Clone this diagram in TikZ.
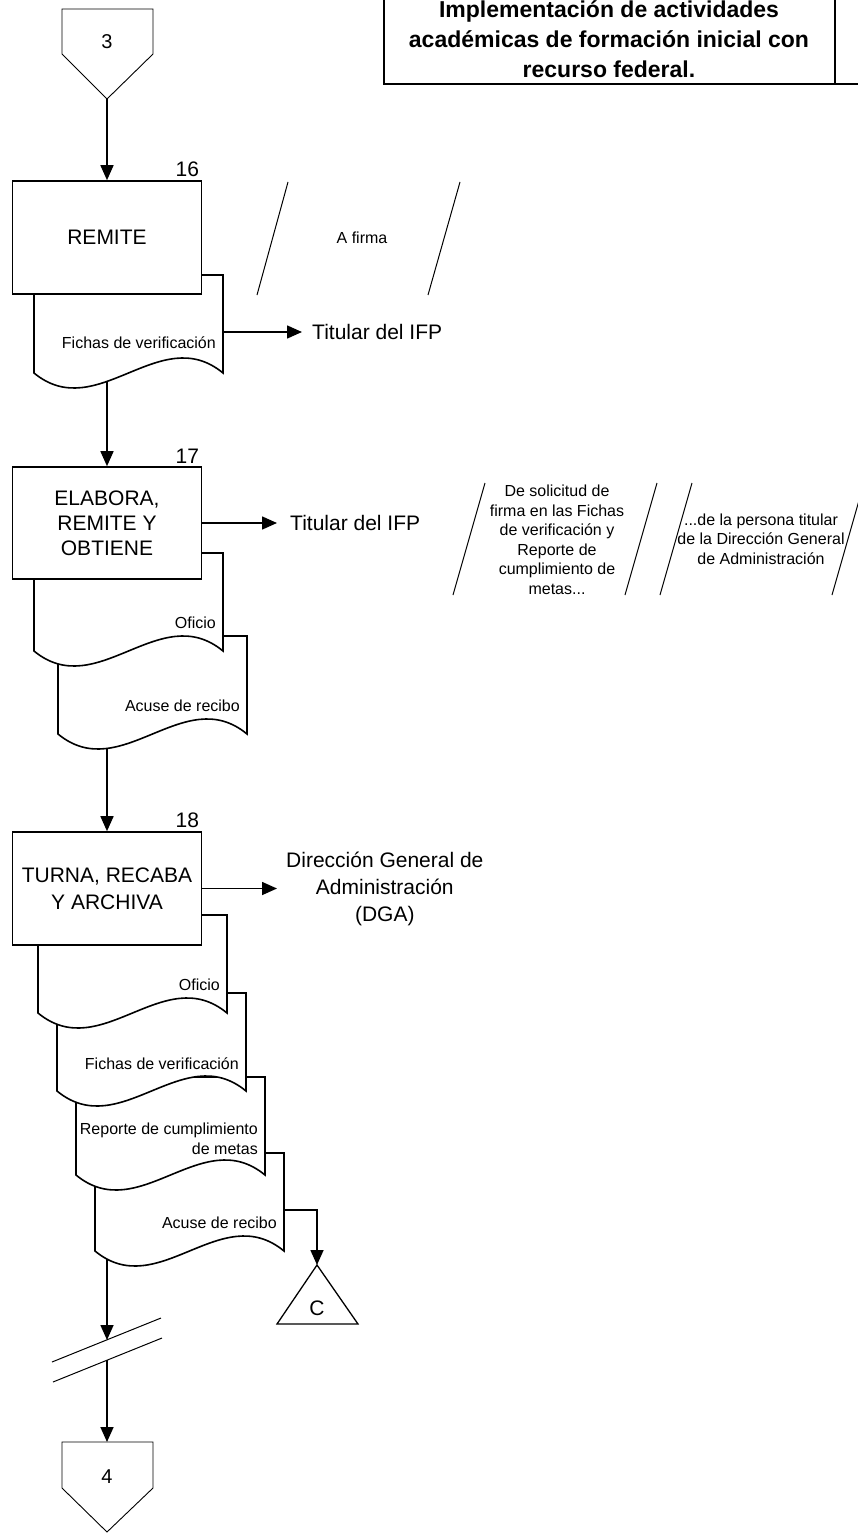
\documentclass[tikz,border=0pt]{standalone}
\usepackage{fontspec}
\setmainfont{Liberation Sans}
\usetikzlibrary{arrows.meta}
\pgfdeclarelayer{back}
\pgfsetlayers{back,main}

\newcommand{\hoja}[5]{%
  \begin{scope}[shift={(#2,#3)}]
    \draw[sheet] (0,0) -- (189,0) -- (189,98) .. controls (126,46) and (63,150) .. (0,98) -- cycle;
    \coordinate (#1-r) at (189,57);
    \node[sheettext] (#1) at (182,#5) {#4};
  \end{scope}}

\begin{document}
\begin{tikzpicture}[x=1pt, y=-1pt,
        every node/.style={font=\fontsize{21}{25}\selectfont, align=center},
        task/.style={draw, fill=white, line width=1.6pt, minimum width=189pt, minimum height=113pt, inner sep=2pt},
        num/.style={label={[anchor=south east, inner sep=3pt]north east:#1}},
        sheet/.style={draw, fill=white, line width=1.6pt},
        sheettext/.style={anchor=east, align=right, inner sep=0pt, font=\fontsize{16}{19.5}\selectfont},
        note/.style={font=\fontsize{16}{19.5}\selectfont},
        flow/.style={line width=1.6pt, -{Triangle[length=15pt, width=13pt]}},
        edge/.style={line width=1pt},
        offpage/.style={draw, line width=0.9pt, fill=white}
    ]
        \useasboundingbox (0,0) rectangle (858,1533);
        \clip (0,0) rectangle (858,1533);

        \draw[line width=2.6pt] (384,-10) -- (384,84) -- (870,84);
        \draw[line width=2.6pt] (835,-10) -- (835,84);
        \node[font=\bfseries\fontsize{23}{30}\selectfont] (titulo) at (609,39) {Implementación de actividades\\ académicas de formación inicial con\\ recurso federal.};

        \draw[offpage] (62,9) -- (153,9) -- (153,54) -- (107,99) coordinate (con3-tip) -- (62,54) -- cycle;
        \node[font=\fontsize{20}{24}\selectfont] (con3) at (107,42) {3};

        \hoja{fichasA}{34}{275}{Fichas de verificación}{68}
        \node[task, num=16] (remite) at (107,237.5) {REMITE};
        \node[anchor=west, inner xsep=10pt] (ifpA) at (302,332) {Titular del IFP};
        \draw[flow] (fichasA-r) -- (ifpA.west);

        \draw[edge] (257,295) -- (288,182);
        \draw[edge] (428,295) -- (460,182);
        \node[note] (firma) at (362,238) {A firma};

        \hoja{acuseA}{58}{636}{Acuse de recibo}{70}
        \hoja{oficioA}{34}{553}{Oficio}{70}
        \node[task, num=17, minimum height=112pt] (elabora) at (107,523) {ELABORA,\\ REMITE Y\\ OBTIENE};
        \node[anchor=west, inner xsep=13pt] (ifpB) at (277,523) {Titular del IFP};
        \draw[flow] (elabora.east) -- (ifpB.west);

        \draw[edge] (453,595) -- (485,483);
        \draw[edge] (625,595) -- (657,483);
        \node[note] (solicitud) at (557,540) {De solicitud de\\ firma en las Fichas\\ de verificación y\\ Reporte de\\ cumplimiento de\\ metas...};
        \draw[edge] (660,595) -- (692,483);
        \draw[edge] (832,595) -- (864,483);
        \node[note] (persona) at (761,539) {...de la persona titular\\ de la Dirección General\\ de Administración};

        \hoja{acuseB}{95}{1153}{Acuse de recibo}{70}
        \hoja{reporte}{76}{1077}{Reporte de cumplimiento\\ de metas}{62}
        \hoja{fichasB}{57}{993}{Fichas de verificación}{71}
        \hoja{oficioB}{38}{915}{Oficio}{70}
        \node[task, num=18, font=\fontsize{21}{27}\selectfont] (turna) at (107,888.5) {TURNA, RECABA\\ Y ARCHIVA};
        \node[anchor=west, inner xsep=9pt, font=\fontsize{21}{27}\selectfont] (dga) at (277,888.5) {Dirección General de\\ Administración\\ (DGA)};
        \draw[flow] (turna.east) -- (dga.west);

        \draw[line width=1.3pt] (317,1265) coordinate (conC-top) -- (358,1324) -- (277,1324) -- cycle;
        \node (conC) at (317,1308) {C};
        \draw[flow] (acuseB-r) -| (conC-top);

        \draw[edge] (52,1362) -- (161,1318);
        \draw[edge] (53,1382) -- (162,1338);
        \coordinate (corteA) at (107,1340);
        \coordinate (corteB) at (107,1360);

        \draw[offpage] (62,1442) -- (107,1442) coordinate (con4-top) -- (153,1442) -- (153,1488) -- (107,1532) -- (62,1488) -- cycle;
        \node[font=\fontsize{20}{24}\selectfont] (con4) at (107,1477) {4};

        \begin{pgfonlayer}{back}
            \draw[flow] (con3-tip) -- (remite);
            \draw[flow] (remite) -- (elabora);
            \draw[flow] (elabora) -- (turna);
            \draw[flow] (turna) -- (corteA);
            \draw[flow] (corteB) -- (con4-top);
        \end{pgfonlayer}
    \end{tikzpicture}
\end{document}
